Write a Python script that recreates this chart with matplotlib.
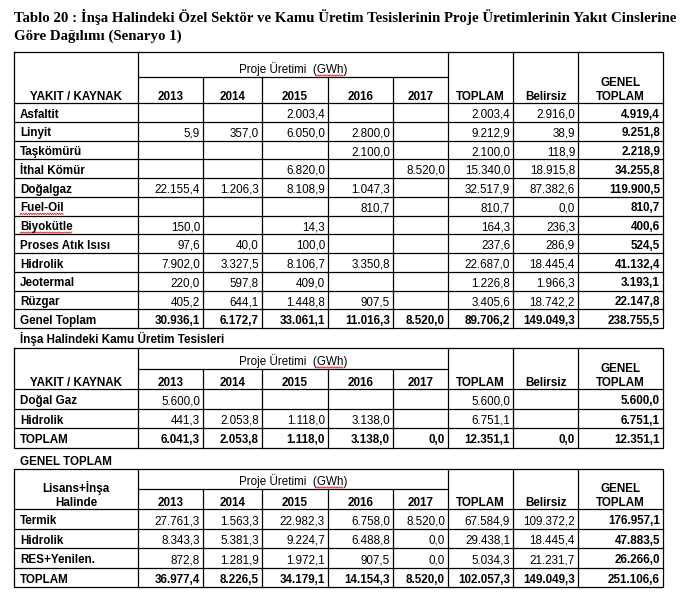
import numpy as np
import matplotlib.pyplot as plt

plt.rcParams['font.family'] = 'Liberation Sans'

# --- veriler ---
yillar = ['2013', '2014', '2015', '2016', '2017']

# Tablo 1: insa halindeki ozel sektor
ozel_kaynak = ['Asfaltit', 'Linyit', 'Taşkömürü', 'İthal Kömür', 'Doğalgaz', 'Fuel-Oil',
               'Biyokütle', 'Proses Atık Isısı', 'Hidrolik', 'Jeotermal', 'Rüzgar', 'Genel Toplam']
ozel_2013 = [None, 5.9, None, None, 22155.4, None, 150.0, 97.6, 7902.0, 220.0, 405.2, 30936.1]
ozel_2014 = [None, 357.0, None, None, 1206.3, None, None, 40.0, 3327.5, 597.8, 644.1, 6172.7]
ozel_2015 = [2003.4, 6050.0, None, 6820.0, 8108.9, None, 14.3, 100.0, 8106.7, 409.0, 1448.8, 33061.1]
ozel_2016 = [None, 2800.0, 2100.0, None, 1047.3, 810.7, None, None, 3350.8, None, 907.5, 11016.3]
ozel_2017 = [None, None, None, 8520.0, None, None, None, None, None, None, None, 8520.0]
ozel_toplam = [2003.4, 9212.9, 2100.0, 15340.0, 32517.9, 810.7, 164.3, 237.6, 22687.0, 1226.8, 3405.6, 89706.2]
ozel_belirsiz = [2916.0, 38.9, 118.9, 18915.8, 87382.6, 0.0, 236.3, 286.9, 18445.4, 1966.3, 18742.2, 149049.3]
ozel_genel = [4919.4, 9251.8, 2218.9, 34255.8, 119900.5, 810.7, 400.6, 524.5, 41132.4, 3193.1, 22147.8, 238755.5]

# Tablo 2: insa halindeki kamu
kamu_kaynak = ['Doğal Gaz', 'Hidrolik', 'TOPLAM']
kamu_2013 = [5600.0, 441.3, 6041.3]
kamu_2014 = [None, 2053.8, 2053.8]
kamu_2015 = [None, 1118.0, 1118.0]
kamu_2016 = [None, 3138.0, 3138.0]
kamu_2017 = [None, None, 0.0]
kamu_toplam = [5600.0, 6751.1, 12351.1]
kamu_belirsiz = [None, None, 0.0]
kamu_genel = [5600.0, 6751.1, 12351.1]

# Tablo 3: genel toplam (lisans + insa halinde)
genel_kaynak = ['Termik', 'Hidrolik', 'RES+Yenilen.', 'TOPLAM']
genel_2013 = [27761.3, 8343.3, 872.8, 36977.4]
genel_2014 = [1563.3, 5381.3, 1281.9, 8226.5]
genel_2015 = [22982.3, 9224.7, 1972.1, 34179.1]
genel_2016 = [6758.0, 6488.8, 907.5, 14154.3]
genel_2017 = [8520.0, 0.0, 0.0, 8520.0]
genel_toplam = [67584.9, 29438.1, 5034.3, 102057.3]
genel_belirsiz = [109372.2, 18445.4, 21231.7, 149049.3]
genel_genel = [176957.1, 47883.5, 26266.0, 251106.6]

FS = 8.4
LW = 0.9
xs = [14, 138, 203, 262, 328, 393, 448, 513, 578, 663]   # sutun sinirlari (piksel)

fig = plt.figure(figsize=(6.87, 6.01), dpi=100)
ax = fig.add_axes([0, 0, 1, 1])
ax.set_xlim(0, 687)
ax.set_ylim(601, 0)
ax.axis('off')
renderer = fig.canvas.get_renderer()


def tr(v):
    # 12345.6 -> 12.345,6
    s = f"{v:,.1f}"
    return s.replace(',', 'X').replace('.', ',').replace('X', '.')


def genislik(s, **kw):
    t = ax.text(0, 0, s, fontsize=FS, **kw)
    bb = t.get_window_extent(renderer)
    t.remove()
    return bb.width


def dalga(x0, x1, y):
    # kelime altindaki kirmizi imla dalgasi
    px = np.arange(x0, x1, 1.2)
    py = y + 0.7 * (-1) ** np.arange(len(px))
    ax.plot(px, py, color='#e02020', lw=0.6)


def tablo(ust, ara, alt, satir_h, etiketler, sutunlar, ilk_baslik):
    n = len(etiketler)
    alt_son = alt + n * satir_h
    k = dict(color='black', lw=LW)
    # cerceve ve ana cizgiler
    ax.plot([xs[0], xs[-1], xs[-1], xs[0], xs[0]], [ust, ust, alt_son, alt_son, ust], **k)
    ax.plot([xs[0], xs[-1]], [alt, alt], **k)
    ax.plot([xs[1], xs[6]], [ara, ara], **k)
    for i in [1, 6, 7, 8]:
        ax.plot([xs[i], xs[i]], [ust, alt_son], **k)
    for i in [2, 3, 4, 5]:
        ax.plot([xs[i], xs[i]], [ara, alt_son], **k)
    for r in range(1, n):
        y = alt + r * satir_h
        ax.plot([xs[0], xs[-1]], [y, y], **k)

    # basliklar
    b = dict(fontsize=FS, fontweight='bold', ha='center', va='baseline')
    if len(ilk_baslik) == 1:
        ax.text((xs[0] + xs[1]) / 2, alt - 3.5, ilk_baslik[0], **b)
    else:
        ax.text((xs[0] + xs[1]) / 2, alt - 17, ilk_baslik[0], **b)
        ax.text((xs[0] + xs[1]) / 2, alt - 3.5, ilk_baslik[1], **b)
    pu = 'Proje Üretimi  (GWh)'
    xc = (xs[1] + xs[6]) / 2
    ax.text(xc, ara - 3.5, pu, fontsize=FS, ha='center', va='baseline')
    w_all = genislik(pu)
    w_g = genislik('GWh)')
    w_p = genislik(')')
    xe = xc + w_all / 2
    dalga(xe - w_g, xe - w_p, ara - 1.5)
    for j, yl in enumerate(yillar):
        ax.text((xs[j + 1] + xs[j + 2]) / 2, alt - 3.5, yl, **b)
    ax.text((xs[6] + xs[7]) / 2, alt - 3.5, 'TOPLAM', **b)
    ax.text((xs[7] + xs[8]) / 2, alt - 3.5, 'Belirsiz', **b)
    ax.text((xs[8] + xs[9]) / 2, alt - 17, 'GENEL', **b)
    ax.text((xs[8] + xs[9]) / 2, alt - 3.5, 'TOPLAM', **b)

    # satirlar
    for r, et in enumerate(etiketler):
        yb = alt + r * satir_h + satir_h / 2 + 5.3
        ax.text(xs[0] + 6, yb, et, fontsize=FS, fontweight='bold', va='baseline')
        if et in ('Fuel-Oil', 'Biyokütle'):
            dalga(xs[0] + 6, xs[0] + 6 + genislik(et, fontweight='bold'), yb + 2.5)
        son = (r == n - 1)
        for c, seri in enumerate(sutunlar):
            v = seri[r]
            if v is None:
                continue
            kalin = son or c == len(sutunlar) - 1
            ax.text(xs[c + 2] - 3, yb, tr(v), fontsize=FS, ha='right', va='baseline',
                    fontweight='bold' if kalin else 'normal')
    return alt_son


# ana baslik
tb = dict(family='Liberation Serif', fontweight='bold', fontsize=10.7, va='baseline')
ax.text(14, 22, 'Tablo 20 : İnşa Halindeki Özel Sektör ve Kamu Üretim Tesislerinin '
        'Proje Üretimlerinin Yakıt Cinslerine', **tb)
ax.text(14, 40, 'Göre Dağılımı (Senaryo 1)', **tb)

tablo(52, 77, 103, 18.75, ozel_kaynak,
      [ozel_2013, ozel_2014, ozel_2015, ozel_2016, ozel_2017, ozel_toplam, ozel_belirsiz, ozel_genel],
      ['YAKIT / KAYNAK'])

ax.text(20, 342.5, 'İnşa Halindeki Kamu Üretim Tesisleri', fontsize=FS, fontweight='bold', va='baseline')
tablo(348, 369, 389, 19.67, kamu_kaynak,
      [kamu_2013, kamu_2014, kamu_2015, kamu_2016, kamu_2017, kamu_toplam, kamu_belirsiz, kamu_genel],
      ['YAKIT / KAYNAK'])

ax.text(20, 464.7, 'GENEL TOPLAM', fontsize=FS, fontweight='bold', va='baseline')
tablo(469, 489, 509, 19.5, genel_kaynak,
      [genel_2013, genel_2014, genel_2015, genel_2016, genel_2017, genel_toplam, genel_belirsiz, genel_genel],
      ['Lisans+İnşa', 'Halinde'])

fig.savefig('out.png', dpi=100)
